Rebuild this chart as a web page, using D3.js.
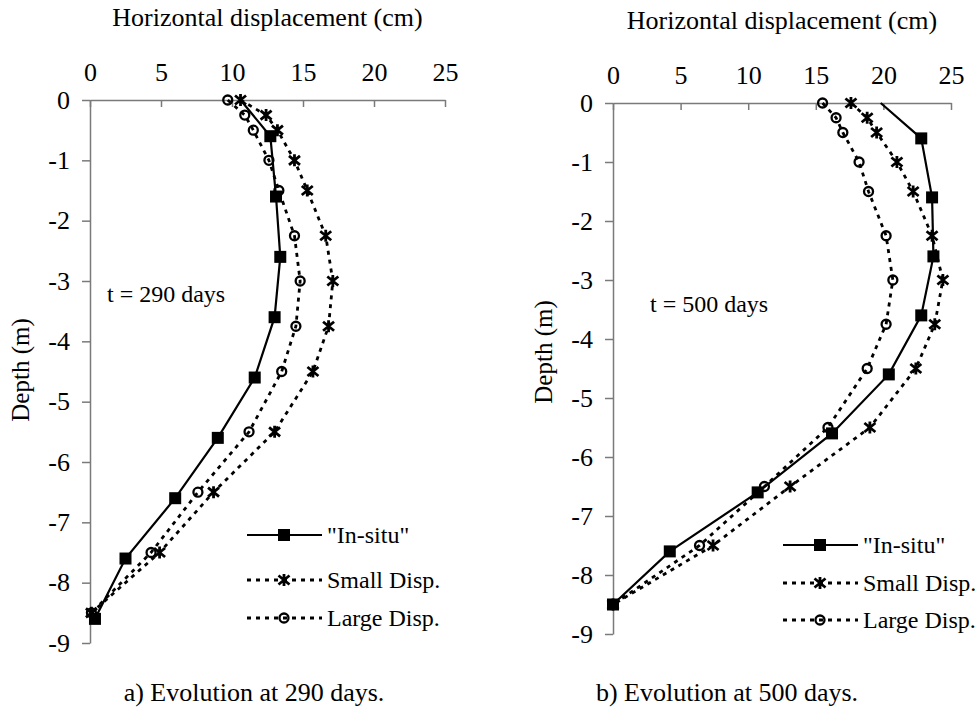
<!DOCTYPE html>
<html>
<head>
<meta charset="utf-8">
<script src="https://cdn.jsdelivr.net/npm/d3@7"></script>
<style>
  body { margin: 0; background: #fff; }
  svg text { font-family: "Liberation Serif", "Times New Roman", serif; fill: #000; }
</style>
</head>
<body>
<svg id="vis" width="975" height="711"></svg>
<script>
// depths (m)
const depthsInSitu290 = [0, -0.6, -1.6, -2.6, -3.6, -4.6, -5.6, -6.6, -7.6, -8.6];
const depthsInSitu500 = [0, -0.6, -1.6, -2.6, -3.6, -4.6, -5.6, -6.6, -7.6, -8.5];
const depthsModel = [0, -0.25, -0.5, -1, -1.5, -2.25, -3, -3.75, -4.5, -5.5, -6.5, -7.5, -8.5];

// horizontal displacement (cm)
const inSitu290 = [10.6, 12.7, 13.1, 13.4, 13.0, 11.6, 9.0, 6.0, 2.5, 0.35];
const small290 = [10.6, 12.4, 13.2, 14.4, 15.3, 16.6, 17.1, 16.8, 15.7, 13.0, 8.7, 4.9, 0.1];
const large290 = [9.7, 10.9, 11.5, 12.6, 13.3, 14.4, 14.8, 14.5, 13.5, 11.2, 7.6, 4.3, 0.1];

const inSitu500 = [19.8, 22.8, 23.6, 23.7, 22.8, 20.4, 16.2, 10.7, 4.2, 0];
const small500 = [17.6, 18.8, 19.5, 21.0, 22.2, 23.6, 24.4, 23.8, 22.4, 19.0, 13.1, 7.4, 0];
const large500 = [15.5, 16.5, 17.0, 18.2, 18.9, 20.2, 20.7, 20.2, 18.8, 15.9, 11.2, 6.4, 0];

const xTicks = [0, 5, 10, 15, 20, 25];
const yTicks = [0, -1, -2, -3, -4, -5, -6, -7, -8, -9];
const seriesNames = ['"In-situ"', "Small Disp.", "Large Disp."];
const xTitle = "Horizontal displacement (cm)";
const yTitle = "Depth (m)";

const svg = d3.select("svg#vis");

const panels = [
  {
    x0: 90, x1: 445, y0: 100, y1: 643,
    label: "t = 290 days", labelX: 107, labelY: 302,
    caption: "a) Evolution at 290 days.", captionX: 254,
    yTitleY: 370, legendX: 247, legendY: [535, 580, 618],
    series: [
      {name: seriesNames[0], depth: depthsInSitu290, disp: inSitu290, type: "square"},
      {name: seriesNames[1], depth: depthsModel, disp: small290, type: "star"},
      {name: seriesNames[2], depth: depthsModel, disp: large290, type: "circle"}
    ]
  },
  {
    x0: 613, x1: 951, y0: 103, y1: 634,
    label: "t = 500 days", labelX: 650, labelY: 312,
    caption: "b) Evolution at 500 days.", captionX: 727,
    yTitleY: 352, legendX: 783, legendY: [545, 583, 620],
    series: [
      {name: seriesNames[0], depth: depthsInSitu500, disp: inSitu500, type: "square"},
      {name: seriesNames[1], depth: depthsModel, disp: small500, type: "star"},
      {name: seriesNames[2], depth: depthsModel, disp: large500, type: "circle"}
    ]
  }
];

panels.forEach(drawPanel);

function drawMarker(sel, type) {
  if (type == "square") {
    sel.append("rect")
      .attr("x", -6).attr("y", -6)
      .attr("width", 12).attr("height", 12)
      .attr("fill", "#000");
  } else if (type == "star") {
    sel.append("path")
      .attr("d", "M-5.5,-4.5L5.5,4.5M-5.5,4.5L5.5,-4.5M0,-6L0,6")
      .attr("stroke", "#000")
      .attr("stroke-width", 2.8)
      .attr("fill", "none");
  } else {
    sel.append("circle")
      .attr("r", 4.5)
      .attr("stroke", "#000")
      .attr("stroke-width", 2.3)
      .attr("fill", "none");
  }
}

function drawPanel(p) {
  const x = d3.scaleLinear().domain([0, 25]).range([p.x0, p.x1]);
  const y = d3.scaleLinear().domain([0, -9]).range([p.y0, p.y1]);
  const g = svg.append("g");

  // top axis, ticks pointing down into the plot
  const xAxis = g.append("g")
    .attr("transform", translate(0, p.y0))
    .call(d3.axisTop(x).tickValues(xTicks).tickSizeInner(-7).tickSizeOuter(0).tickPadding(19));

  const yAxis = g.append("g")
    .attr("transform", translate(p.x0, 0))
    .call(d3.axisLeft(y).tickValues(yTicks).tickSizeInner(8).tickSizeOuter(0).tickPadding(12)
      .tickFormat(d => String(d)));

  [xAxis, yAxis].forEach(function(a) {
    a.selectAll("path, line").attr("stroke", "#7a7a7a").attr("stroke-width", 1.5);
    a.selectAll("text").attr("font-size", 26).attr("font-family", null).attr("fill", "#000");
  });

  g.append("text")
    .attr("x", (p.x0 + p.x1) / 2)
    .attr("y", p.y0 - 74)
    .attr("text-anchor", "middle")
    .attr("font-size", 26)
    .text(xTitle);

  g.append("text")
    .attr("transform", translate(p.x0 - 61, p.yTitleY) + " rotate(-90)")
    .attr("text-anchor", "middle")
    .attr("font-size", 25)
    .text(yTitle);

  g.append("text")
    .attr("x", p.labelX)
    .attr("y", p.labelY)
    .attr("font-size", 24)
    .text(p.label);

  const line = d3.line()
    .x(d => x(d[1]))
    .y(d => y(d[0]));

  // draw large first so the in-situ markers sit on top
  p.series.slice().reverse().forEach(function(s) {
    const pts = d3.zip(s.depth, s.disp);
    g.append("path")
      .datum(pts)
      .attr("d", line)
      .attr("fill", "none")
      .attr("stroke", "#000")
      .attr("stroke-width", s.type == "square" ? 2.2 : 2.8)
      .attr("stroke-dasharray", s.type == "square" ? null : "4,5");

    // the in-situ curve has no marker at the surface
    const marked = s.type == "square" ? pts.slice(1) : pts;
    g.selectAll(null)
      .data(marked)
      .enter()
      .append("g")
      .attr("transform", d => translate(x(d[1]), y(d[0])))
      .each(function() { drawMarker(d3.select(this), s.type); });
  });

  // legend
  p.series.forEach(function(s, i) {
    const ly = p.legendY[i];
    const row = g.append("g").attr("transform", translate(p.legendX, ly));
    row.append("line")
      .attr("x1", 0).attr("x2", 75)
      .attr("stroke", "#000")
      .attr("stroke-width", s.type == "square" ? 2.2 : 2.8)
      .attr("stroke-dasharray", s.type == "square" ? null : "4,5");
    drawMarker(row.append("g").attr("transform", translate(37, 0)), s.type);
    row.append("text")
      .attr("x", 80)
      .attr("dy", "0.33em")
      .attr("font-size", 24)
      .text(s.name);
  });

  g.append("text")
    .attr("x", p.captionX)
    .attr("y", 701)
    .attr("text-anchor", "middle")
    .attr("font-size", 26)
    .text(p.caption);
}

function translate(x, y) {
  return "translate(" + String(x) + "," + String(y) + ")";
}
</script>
</body>
</html>
